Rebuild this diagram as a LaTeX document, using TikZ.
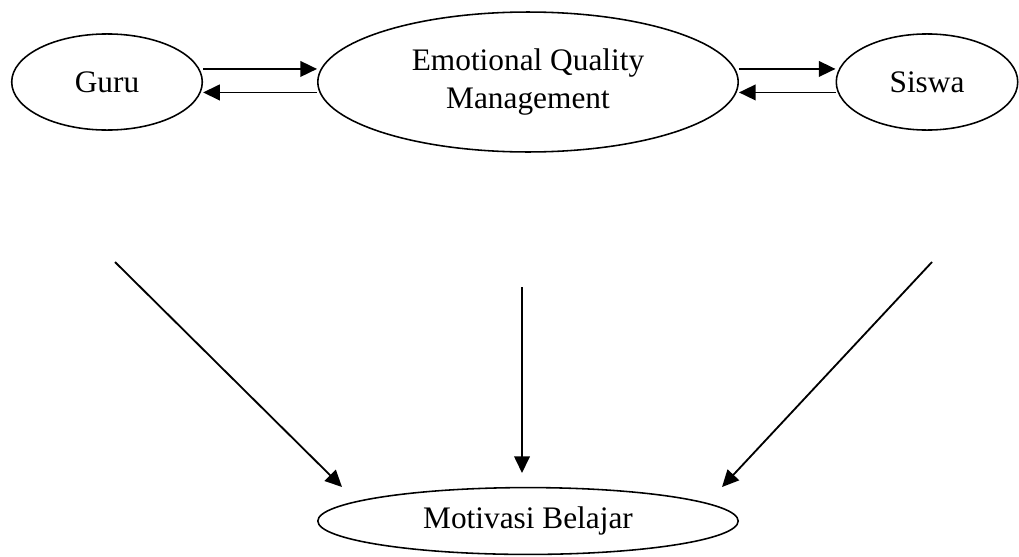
\documentclass[tikz,border=0pt]{standalone}
\usepackage{fontspec}
\setmainfont{Liberation Serif}
\usepackage{tikz}
\usetikzlibrary{shapes.geometric, arrows.meta, positioning}
\tikzset{oval/.style={ellipse,draw,line width=0.6pt,align=center,inner sep=0pt,font=\fontsize{12}{14.5}\selectfont},
         arrow/.style={-{Triangle[length=6.4pt,width=6pt]},line width=0.7pt}}

\begin{document}
\begin{tikzpicture}[x=0.383pt,y=-0.383pt]
    \useasboundingbox (0,0) rectangle (1019,556);
    \node (guru) [oval, minimum width=73pt, minimum height=36.8pt] at (107,82) {Guru};
    \node (eqm) [oval, minimum width=161pt, minimum height=53.6pt] at (528,82) {Emotional Quality\\Management};
    \node (siswa) [oval, minimum width=69.5pt, minimum height=36.8pt] at (927,82) {Siswa};
    \node (motivasi) [oval, minimum width=161pt, minimum height=25.6pt] at (528,521) {Motivasi Belajar};
    \draw[arrow] ([yshift=5pt]guru.east) -- ([yshift=5pt]eqm.west);
    \draw[arrow] ([yshift=-4pt]eqm.west) -- ([yshift=-4pt]guru.east);
    \draw[arrow] ([yshift=5pt]eqm.east) -- ([yshift=5pt]siswa.west);
    \draw[arrow] ([yshift=-4pt]siswa.west) -- ([yshift=-4pt]eqm.east);
    % free ends above Motivasi Belajar
    \coordinate (l1) at (115,262);
    \coordinate (l2) at (342,487);
    \coordinate (m1) at (522,287);
    \coordinate (m2) at (522,473);
    \coordinate (r1) at (932,262);
    \coordinate (r2) at (722,487);
    \draw[arrow] (l1) -- (l2);
    \draw[arrow] (m1) -- (m2);
    \draw[arrow] (r1) -- (r2);
\end{tikzpicture}
\end{document}
